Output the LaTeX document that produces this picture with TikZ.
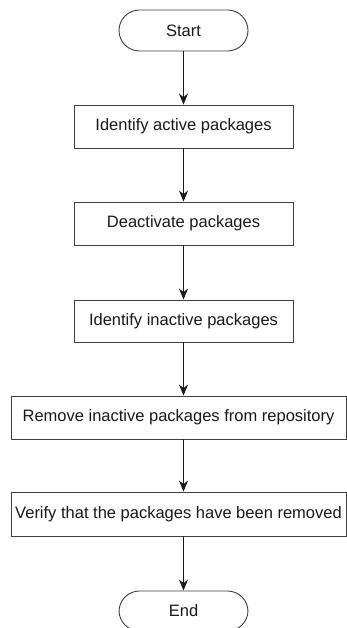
\documentclass[tikz,border=0pt]{standalone}
\usepackage{fontspec}
\setmainfont{Liberation Sans}
\usetikzlibrary{arrows.meta}
\begin{document}
\begin{tikzpicture}[x=1pt,y=-1pt,
  line/.style={draw=black!75,line width=0.9pt},
  term/.style={line,rounded corners=20.5pt,fill=white},
  proc/.style={line,fill=white},
  lbl/.style={font=\fontsize{16.5}{18}\selectfont,text=black!90},
  arr/.style={draw=black!90,line width=0.9pt,-{Stealth[length=11pt,width=9pt]}}]
\useasboundingbox (0,0) rectangle (347,628);
\node[term,minimum width=129pt,minimum height=41pt,lbl] (start) at (183.5,30.5) {Start};
\node[proc,minimum width=219pt,minimum height=43pt,lbl] (b1) at (183.5,126.5) {Identify active packages};
\node[proc,minimum width=219pt,minimum height=43pt,lbl] (b2) at (183.5,223.5) {Deactivate packages};
\node[proc,minimum width=219pt,minimum height=42pt,lbl] (b3) at (183.5,321) {Identify inactive packages};
\node[proc,minimum width=335pt,minimum height=43pt,lbl] (b4) at (178.5,417.5) {Remove inactive packages from repository};
\node[proc,minimum width=335pt,minimum height=44pt,lbl] (b5) at (178.5,514) {Verify that the packages have been removed};
\node[term,minimum width=129pt,minimum height=40pt,lbl] (end) at (183.5,611) {End};
\draw[arr] (start.south) -- (b1.north);
\draw[arr] (b1.south) -- (b2.north);
\draw[arr] (b2.south) -- (b3.north);
\draw[arr] (b3.south) -- (b3.south |- b4.north);
\draw[arr] (b4.south -| b3.south) -- (b3.south |- b5.north);
\draw[arr] (b5.south -| b3.south) -- (end.north);
\end{tikzpicture}
\end{document}
